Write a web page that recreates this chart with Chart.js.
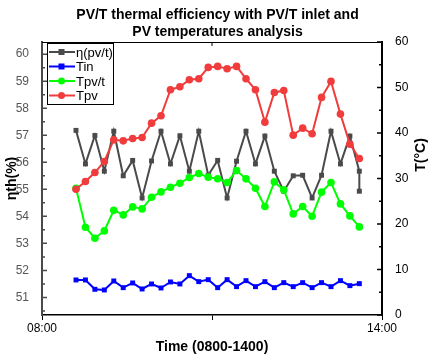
<!DOCTYPE html>
<html lang="en">
<head>
    <meta charset="UTF-8">
    <title>PV/T thermal efficiency</title>
    <style>
        body { margin: 0; background: #fff; }
        #wrap { width: 435px; height: 360px; }
    </style>
    <script src="https://cdn.jsdelivr.net/npm/chart.js"></script>
</head>
<body>
    <div id="wrap"><canvas id="chart" width="435" height="360"></canvas></div>

    <script>
        // sample times (10 min steps)
        const times = ['08:36', '08:46', '08:56', '09:06', '09:16', '09:26', '09:36', '09:46', '09:56', '10:06',
                       '10:16', '10:26', '10:36', '10:46', '10:56', '11:06', '11:16', '11:26', '11:36', '11:46',
                       '11:56', '12:06', '12:16', '12:26', '12:36', '12:46', '12:56', '13:06', '13:16', '13:26', '13:36'];
        // eta has one extra reading at the last time
        const etaTimes = times.concat(['13:36']);

        const eta = [57.18, 55.94, 56.99, 55.67, 57.15, 55.50, 56.07, 54.68, 56.05, 57.15,
                     55.94, 56.98, 55.67, 57.15, 55.52, 56.07, 54.68, 56.04, 57.15, 55.94,
                     56.97, 55.67, 54.93, 55.50, 55.52, 54.68, 55.52, 57.15, 55.94, 56.97, 55.67, 54.93];
        const tin = [7.70, 7.70, 5.65, 5.50, 7.48, 6.01, 7.04, 5.72, 6.82, 5.94,
                     7.26, 6.82, 8.65, 7.33, 7.77, 6.01, 7.77, 6.23, 7.55, 6.23,
                     7.33, 6.01, 7.11, 6.23, 7.11, 6.01, 7.11, 6.23, 7.55, 6.45, 6.89];
        const tpvt = [27.87, 19.30, 16.87, 18.48, 23.03, 22.00, 23.76, 23.32, 25.89, 27.06,
                      28.09, 28.97, 30.21, 31.09, 30.30, 29.95, 29.11, 31.75, 29.92, 27.87,
                      23.83, 29.26, 27.50, 22.22, 23.83, 21.71, 27.00, 29.11, 24.42, 21.78, 19.36];
        const tpv = [27.65, 29.33, 31.31, 33.74, 38.50, 38.28, 38.80, 39.02, 42.17, 43.78,
                     49.50, 50.17, 51.70, 51.93, 54.42, 54.64, 54.13, 54.64, 51.93, 49.50,
                     42.39, 48.91, 49.35, 39.53, 41.07, 39.82, 47.82, 51.34, 44.15, 37.55, 34.40];

        const xTickLabels = { 0: '08:00', 360: '14:00' };

        const FONT = 'Liberation Sans, Arial, sans-serif';

        function toMin(t) {
            const [h, m] = t.split(':').map(Number);
            return (h - 8) * 60 + m;
        }
        function points(ts, vals) {
            return vals.map((v, i) => ({ x: toMin(ts[i]), y: v }));
        }

        const series = [
            { label: 'η(pv/t)', data: points(etaTimes, eta), color: '#4a4a4a', style: 'rect', axis: 'y', order: 4 },
            { label: 'Tin', data: points(times, tin), color: '#0000ff', style: 'rect', axis: 'y2', order: 3 },
            { label: 'Tpv/t', data: points(times, tpvt), color: '#00ff00', style: 'circle', axis: 'y2', order: 2 },
            { label: 'Tpv', data: points(times, tpv), color: '#f03c3c', style: 'circle', axis: 'y2', order: 1 }
        ];

        // white background, frame top line, inner ticks, legend, right title
        const decor = {
            id: 'decor',
            beforeDraw(chart) {
                const ctx = chart.ctx;
                ctx.save();
                ctx.fillStyle = '#fff';
                ctx.fillRect(0, 0, chart.width, chart.height);
                ctx.restore();
            },
            afterDraw(chart) {
                const ctx = chart.ctx;
                const a = chart.chartArea;
                const yL = chart.scales.y;
                const yR = chart.scales.y2;
                const x = chart.scales.x;
                ctx.save();

                // top frame
                ctx.strokeStyle = '#000';
                ctx.lineWidth = 1;
                ctx.beginPath();
                ctx.moveTo(a.left, a.top + 0.5);
                ctx.lineTo(a.right, a.top + 0.5);
                ctx.moveTo(x.getPixelForValue(180), a.top);
                ctx.lineTo(x.getPixelForValue(180), a.top + 4);
                ctx.stroke();

                // left inner ticks
                ctx.strokeStyle = '#4a4a4a';
                ctx.lineWidth = 1.5;
                ctx.beginPath();
                for (let v = 50.5; v <= 60.01; v += 0.5) {
                    const py = yL.getPixelForValue(v);
                    const len = Number.isInteger(v) ? 5 : 3;
                    ctx.moveTo(a.left, py);
                    ctx.lineTo(a.left + len, py);
                }
                ctx.stroke();

                // right inner ticks
                ctx.strokeStyle = '#000';
                ctx.beginPath();
                for (let v = 0; v <= 60; v += 5) {
                    const py = yR.getPixelForValue(v);
                    const len = v % 10 === 0 ? 5 : 3;
                    ctx.moveTo(a.right, py);
                    ctx.lineTo(a.right - len, py);
                }
                ctx.stroke();

                // legend
                const bx = 47, by = 43, bw = 66, bh = 61;
                ctx.fillStyle = '#fff';
                ctx.fillRect(bx, by, bw, bh);
                ctx.strokeStyle = '#000';
                ctx.lineWidth = 1;
                ctx.strokeRect(bx + 0.5, by + 0.5, bw, bh);
                ctx.font = '13px ' + FONT;
                ctx.textBaseline = 'middle';
                series.forEach((s, i) => {
                    const ly = by + 9 + i * 14.5;
                    ctx.strokeStyle = s.color;
                    ctx.fillStyle = s.color;
                    ctx.lineWidth = 2;
                    ctx.beginPath();
                    ctx.moveTo(bx + 2, ly);
                    ctx.lineTo(bx + 28, ly);
                    ctx.stroke();
                    if (s.style === 'rect') {
                        ctx.fillRect(bx + 11.5, ly - 3, 6, 6);
                    } else {
                        ctx.beginPath();
                        ctx.arc(bx + 14.5, ly, 3.5, 0, Math.PI * 2);
                        ctx.fill();
                    }
                    ctx.fillStyle = '#000';
                    ctx.fillText(s.label, bx + 29, ly + 1);
                });

                // right axis title (reads upward)
                ctx.translate(421, 155);
                ctx.rotate(-Math.PI / 2);
                ctx.font = 'bold 14px ' + FONT;
                ctx.textAlign = 'center';
                ctx.fillStyle = '#000';
                ctx.fillText('T(°C)', 0, 0);
                ctx.restore();
            }
        };

        new Chart(document.getElementById('chart'), {
            type: 'line',
            data: {
                datasets: series.map(s => ({
                    label: s.label,
                    data: s.data,
                    yAxisID: s.axis,
                    order: s.order,
                    borderColor: s.color,
                    backgroundColor: s.color,
                    borderWidth: 2,
                    pointStyle: s.style,
                    pointRadius: s.style === 'rect' ? 3.5 : 3.8,
                    pointBorderWidth: 0,
                    tension: 0,
                    clip: false
                }))
            },
            options: {
                responsive: false,
                animation: false,
                events: [],
                plugins: {
                    legend: { display: false },
                    tooltip: { enabled: false },
                    title: {
                        display: true,
                        text: ['PV/T thermal efficiency with PV/T inlet and', 'PV temperatures analysis'],
                        color: '#000',
                        font: { family: FONT, size: 14, weight: 'bold', lineHeight: 1.2 },
                        padding: { top: 7, bottom: 1.4 }
                    }
                },
                scales: {
                    x: {
                        type: 'linear',
                        min: 0,
                        max: 360,
                        afterFit: s => { s.height = 45; },
                        border: { color: '#000', width: 1.5 },
                        grid: { drawOnChartArea: false, tickLength: 5, color: '#000', lineWidth: 1 },
                        ticks: {
                            stepSize: 180,
                            padding: 1,
                            color: '#000',
                            font: { family: FONT, size: 12 },
                            maxRotation: 0,
                            callback: v => xTickLabels[v] || ''
                        },
                        title: {
                            display: true,
                            text: 'Time (0800-1400)',
                            color: '#000',
                            font: { family: FONT, size: 14, weight: 'bold' }
                        }
                    },
                    y: {
                        position: 'left',
                        min: 50.35,
                        max: 60.45,
                        afterFit: s => { s.width = 42; },
                        border: { color: '#4a4a4a', width: 2 },
                        grid: { display: false },
                        ticks: {
                            stepSize: 1,
                            includeBounds: false,
                            padding: 5,
                            color: '#555',
                            font: { family: FONT, size: 12 }
                        },
                        title: {
                            display: true,
                            text: 'ηth(%)',
                            color: '#000',
                            font: { family: FONT, size: 14, weight: 'bold' }
                        }
                    },
                    y2: {
                        position: 'right',
                        min: 0,
                        max: 60,
                        afterFit: s => { s.width = 53; },
                        border: { color: '#000', width: 2 },
                        grid: { display: false },
                        ticks: {
                            stepSize: 10,
                            padding: 5,
                            color: '#000',
                            font: { family: FONT, size: 12 }
                        }
                    }
                }
            },
            plugins: [decor]
        });
    </script>
</body>
</html>
